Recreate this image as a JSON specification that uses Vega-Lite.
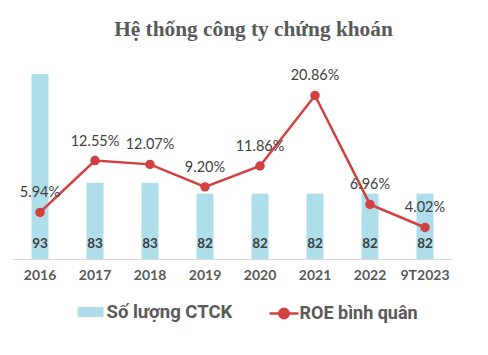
{
  "$schema": "https://vega.github.io/schema/vega-lite/v6.json",
  "autosize": {"type": "none"},
  "width": 440,
  "height": 196,
  "padding": {"left": 12.5, "top": 63, "right": 35.5, "bottom": 96},
  "background": "white",
  "title": {
    "text": "Hệ thống công ty chứng khoán",
    "font": "Liberation Serif",
    "fontSize": 21.3,
    "fontWeight": "bold",
    "color": "#595959",
    "anchor": "middle",
    "dx": 21,
    "baseline": "alphabetic",
    "offset": 6
  },
  "config": {"view": {"stroke": null}},
  "data": {
    "values": [
      {"year": "2016", "n": 93, "roe": 0.0594},
      {"year": "2017", "n": 83, "roe": 0.1255},
      {"year": "2018", "n": 83, "roe": 0.1207},
      {"year": "2019", "n": 82, "roe": 0.092},
      {"year": "2020", "n": 82, "roe": 0.1186},
      {"year": "2021", "n": 82, "roe": 0.2086},
      {"year": "2022", "n": 82, "roe": 0.0696},
      {"year": "9T2023", "n": 82, "roe": 0.0402}
    ]
  },
  "encoding": {
    "x": {
      "field": "year",
      "type": "nominal",
      "sort": null,
      "scale": {"paddingInner": 0, "paddingOuter": 0},
      "axis": {
        "title": null,
        "labelAngle": 0,
        "ticks": false,
        "domainColor": "#D9D9D9",
        "domainWidth": 1,
        "labelFont": "Lato",
        "labelFontWeight": "bold",
        "labelFontSize": 14,
        "labelColor": "#595959",
        "labelPadding": 9,
        "grid": false
      }
    }
  },
  "layer": [
    {
      "encoding": {
        "y": {"type": "quantitative", "scale": {"domain": [76, 94], "zero": false, "nice": false}, "axis": null}
      },
      "layer": [
        {
          "mark": {"type": "bar", "size": 17, "clip": true},
          "encoding": {
            "y": {"field": "n", "type": "quantitative"},
            "fill": {
              "datum": "Số lượng CTCK",
              "scale": {"range": ["#ADDEEA"]},
              "legend": {
                "title": null,
                "orient": "none",
                "legendX": 68,
                "legendY": 239,
                "symbolType": "M-1.3,-0.5H1.3V0.5H-1.3Z",
                "symbolSize": 400,
                "symbolStrokeWidth": 0,
                "labelFont": "Roboto",
                "labelFontWeight": "bold",
                "labelFontSize": 18.5,
                "labelColor": "#595959",
                "labelOffset": 6
              }
            }
          }
        },
        {
          "mark": {"type": "text", "font": "Lato", "fontWeight": "bold", "fontSize": 13.5, "color": "#404040", "baseline": "middle"},
          "encoding": {
            "y": {"datum": 77.4},
            "text": {"field": "n", "type": "quantitative"}
          }
        }
      ]
    },
    {
      "encoding": {
        "y": {"type": "quantitative", "scale": {"domain": [0, 0.25], "nice": false}, "axis": null}
      },
      "layer": [
        {
          "mark": {"type": "line", "strokeWidth": 2.5},
          "encoding": {
            "y": {"field": "roe", "type": "quantitative"},
            "stroke": {
              "datum": "ROE bình quân",
              "scale": {"range": ["#D14141"]},
              "legend": {
                "title": null,
                "orient": "none",
                "legendX": 260,
                "legendY": 239,
                "symbolType": "M-1.45,0H1.45M0.47,0A0.47,0.47,0,1,1,-0.47,0A0.47,0.47,0,1,1,0.47,0",
                "symbolSize": 400,
                "symbolFillColor": "#D14141",
                "symbolStrokeColor": "#D14141",
                "symbolStrokeWidth": 2.5,
                "labelFont": "Roboto",
                "labelFontWeight": "bold",
                "labelFontSize": 18,
                "labelColor": "#595959",
                "labelOffset": 4
              }
            }
          }
        },
        {
          "mark": {"type": "point", "filled": true, "size": 90, "color": "#D14141", "opacity": 1},
          "encoding": {"y": {"field": "roe", "type": "quantitative"}}
        },
        {
          "mark": {"type": "text", "font": "Lato", "fontSize": 14.5, "color": "#404040", "dy": -19, "baseline": "middle"},
          "encoding": {
            "y": {"field": "roe", "type": "quantitative"},
            "text": {"field": "roe", "type": "quantitative", "format": ".2%"}
          }
        }
      ]
    }
  ],
  "resolve": {"scale": {"y": "independent"}}
}
